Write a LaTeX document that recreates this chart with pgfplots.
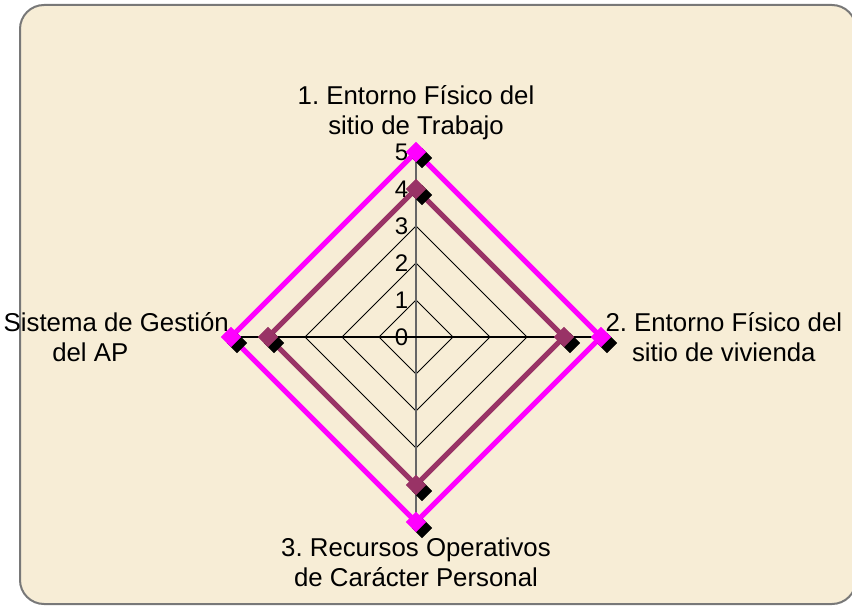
\documentclass[border=0pt]{standalone}
\usepackage{pgfplots}
\pgfplotsset{compat=1.18}
\usepackage{fontspec}
\setmainfont{Liberation Sans}
\frenchspacing

\definecolor{parchment}{RGB}{247,237,214}
\definecolor{frame}{RGB}{120,120,120}
\definecolor{serA}{RGB}{255,0,255}
\definecolor{serB}{RGB}{153,51,102}
\tikzset{
  lbl/.style={font=\fontsize{12.9}{15}\selectfont, align=center, inner sep=0pt},
  tk/.style={font=\fontsize{12}{14}\selectfont, anchor=east, inner sep=0pt}}

\begin{document}
\begin{tikzpicture}
\useasboundingbox (0,0) rectangle (426pt,303pt);
\fill[parchment, rounded corners=12pt] (10pt,1pt) rectangle (428pt,300.5pt);
\draw[frame, line width=1pt, rounded corners=12pt] (10pt,1pt) rectangle (428pt,300.5pt);

\begin{axis}[at={(208pt,134.5pt)}, anchor=origin, x=18.5pt, y=18.5pt,
  xmin=-5.5, xmax=5.5, ymin=-5.5, ymax=5.5, hide axis, clip=false,
  every axis plot/.append style={data cs=polar}]
% grid diamonds
\addplot[black, line width=0.5pt] coordinates {(90,1)(0,1)(-90,1)(180,1)(90,1)};
\addplot[black, line width=0.5pt] coordinates {(90,2)(0,2)(-90,2)(180,2)(90,2)};
\addplot[black, line width=0.5pt] coordinates {(90,3)(0,3)(-90,3)(180,3)(90,3)};
\addplot[black, line width=0.5pt] coordinates {(90,4)(0,4)(-90,4)(180,4)(90,4)};
\addplot[black, line width=0.5pt] coordinates {(90,5)(0,5)(-90,5)(180,5)(90,5)};
% spokes
\addplot[black!60, line width=0.6pt] coordinates {(90,5)(0,0)(-90,5)};
\addplot[black, line width=0.6pt] coordinates {(0,5)(0,0)(180,5)};

% series 1 (value 5)
\addplot[serA, line width=2.6pt, line join=miter] coordinates {(90,5)(0,5)(-90,5)(180,5)(90,5)};
% series 2 (value 4)
\addplot[serB, line width=2.6pt, line join=miter] coordinates {(90,4)(0,4)(-90,4)(180,4)(90,4)};
% marker shadows
\addplot[only marks, mark=square*, mark size=3.4pt, mark options={xshift=3pt, yshift=-3pt, rotate=45, black}] coordinates {(90,5)(0,5)(-90,5)(180,5)};
\addplot[only marks, mark=square*, mark size=3.4pt, mark options={xshift=3pt, yshift=-3pt, rotate=45, black}] coordinates {(90,4)(0,4)(-90,4)(180,4)};
% markers
\addplot[only marks, mark=square*, mark size=3.4pt, mark options={rotate=45, serA, fill=serA}] coordinates {(90,5)(0,5)(-90,5)(180,5)};
\addplot[only marks, mark=square*, mark size=3.4pt, mark options={rotate=45, serB, fill=serB}] coordinates {(90,4)(0,4)(-90,4)(180,4)};

% radial tick labels
\node[tk] at (axis cs:-0.2,0) {0};
\node[tk] at (axis cs:-0.2,1) {1};
\node[tk] at (axis cs:-0.2,2) {2};
\node[tk] at (axis cs:-0.2,3) {3};
\node[tk] at (axis cs:-0.2,4) {4};
\node[tk] at (axis cs:-0.2,5) {5};

% category labels
\node[lbl] at (axis cs:0,6.07) {1. Entorno Físico del\\sitio de Trabajo};
\node[lbl] at (axis cs:8.32,0) {2. Entorno Físico del\\sitio de vivienda};
\node[lbl] at (axis cs:0,-6.1) {3. Recursos Operativos\\de Carácter Personal};
\node[lbl] at (axis cs:-8.1,0) {Sistema de Gestión\\del AP\hspace*{26pt}};
\end{axis}
\end{tikzpicture}
\end{document}
